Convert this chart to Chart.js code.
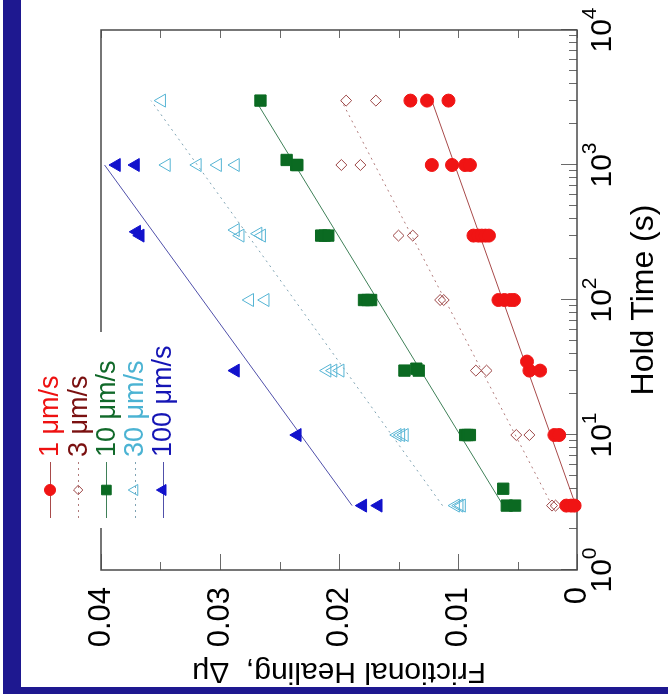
<!DOCTYPE html>
<html lang="en">
<head>
<meta charset="UTF-8" />
<title>Frictional Healing vs Hold Time</title>
<script src="https://cdn.jsdelivr.net/npm/chart.js"></script>
<style>
  html, body {
    margin: 0;
    padding: 0;
    background: #fff;
  }
  body {
    width: 668px;
    height: 694px;
    position: relative;
    overflow: hidden;
  }
  .band-left {
    position: absolute;
    left: 3px;
    top: 0;
    width: 18px;
    height: 694px;
    background: #1e1890;
  }
  .band-bottom {
    position: absolute;
    left: 3px;
    top: 687px;
    width: 665px;
    height: 7px;
    background: #1e1890;
  }
  /* the plot is laid out landscape, then turned a quarter turn to the left */
  .figure {
    position: absolute;
    left: 0;
    top: 0;
    width: 694px;
    height: 668px;
    transform-origin: 0 0;
    transform: translateY(694px) rotate(-90deg);
  }
</style>
</head>
<body>
<div class="band-left"></div>
<div class="band-bottom"></div>
<div class="figure"><canvas id="healing" width="694" height="668"></canvas></div>

<script>
const FONT = "'Liberation Sans', Arial, Helvetica, sans-serif";

const speedLabels = ['1 \u03bcm/s', '3 \u03bcm/s', '10 \u03bcm/s', '30 \u03bcm/s', '100 \u03bcm/s'];

// hold time (s) and healing for each load point velocity
const hold1 = [3, 3, 3, 10, 10, 30, 30, 35, 100, 100, 100, 100, 300, 300, 300, 300, 300, 1000, 1000, 1000, 1000, 3000, 3000, 3000];
const heal1 = [0.0009, 0.0005, 0.0002, 0.0019, 0.0015, 0.0040, 0.0031, 0.0042, 0.0066, 0.0061, 0.0056, 0.0053, 0.0087, 0.0083, 0.0080, 0.0077, 0.0074, 0.0122, 0.0105, 0.0094, 0.0090, 0.0140, 0.0126, 0.0108];

const hold3 = [3, 3, 10, 10, 30, 30, 100, 100, 300, 300, 1000, 1000, 3000, 3000];
const heal3 = [0.0021, 0.0018, 0.0051, 0.0040, 0.0085, 0.0076, 0.0115, 0.0112, 0.0150, 0.0138, 0.0198, 0.0182, 0.0194, 0.0169];

const hold10 = [4, 3, 3, 10, 10, 10, 30, 31, 30, 100, 100, 100, 300, 300, 300, 1090, 1000, 1000, 3000];
const heal10 = [0.0062, 0.0059, 0.0052, 0.0094, 0.0092, 0.0090, 0.0145, 0.0135, 0.0133, 0.0179, 0.0176, 0.0173, 0.0215, 0.0212, 0.0209, 0.0244, 0.0236, 0.0235, 0.0266];

const hold30 = [3, 3, 3, 10, 10, 10, 30, 30, 30, 100, 100, 330, 300, 310, 300, 1000, 1000, 1000, 1000, 3000];
const heal30 = [0.0102, 0.0099, 0.0097, 0.0151, 0.0148, 0.0145, 0.0210, 0.0205, 0.0199, 0.0275, 0.0262, 0.0287, 0.0283, 0.0268, 0.0265, 0.0345, 0.0319, 0.0302, 0.0287, 0.0349];

const hold100 = [3, 3, 10, 30, 300, 320, 1000, 1000];
const heal100 = [0.0180, 0.0167, 0.0235, 0.0287, 0.0367, 0.0370, 0.0387, 0.0371];

// log-linear fits, start and end of each line
const fitHold = [[3, 3000], [3, 3000], [3, 3000], [3, 3000], [3, 1000]];
const fitHeal = [[0.0001, 0.0122], [0.0021, 0.0198], [0.0062, 0.0270], [0.0113, 0.0358], [0.0189, 0.0397]];

const holdDecades = [1, 10, 100, 1000, 10000];
const holdExponents = ['0', '1', '2', '3', '4'];
const healingTicks = [0, 0.01, 0.02, 0.03, 0.04];
const healingLabels = ['0', '0.01', '0.02', '0.03', '0.04'];

const holdSets = [hold1, hold3, hold10, hold30, hold100];
const healSets = [heal1, heal3, heal10, heal30, heal100];

const markerStyles = [
  { pointStyle: 'circle', pointRadius: 6.5, backgroundColor: '#f01414', borderColor: '#f01414', borderWidth: 1 },
  { pointStyle: 'rectRot', pointRadius: 5.5, backgroundColor: 'rgba(0,0,0,0)', borderColor: '#9c4545', borderWidth: 1 },
  { pointStyle: 'rect', pointRadius: 8, backgroundColor: '#0b6a22', borderColor: '#0b6a22', borderWidth: 1 },
  { pointStyle: 'triangle', pointRadius: 7.5, backgroundColor: 'rgba(0,0,0,0)', borderColor: '#55b4d4', borderWidth: 1 },
  { pointStyle: 'triangle', pointRadius: 7.5, backgroundColor: '#1212cc', borderColor: '#1212cc', borderWidth: 1 }
];
const fitStyles = [
  { borderColor: '#a84a4a', borderDash: [] },
  { borderColor: '#b07a7a', borderDash: [2, 4] },
  { borderColor: '#3f8058', borderDash: [] },
  { borderColor: '#7fa3b3', borderDash: [2, 4] },
  { borderColor: '#5050aa', borderDash: [] }
];
const labelColors = ['#ee1111', '#7a1010', '#11692a', '#4bb3d3', '#1515b5'];

const datasets = [];
speedLabels.forEach((label, i) => {
  datasets.push({
    label: label,
    data: holdSets[i].map((t, k) => ({ x: t, y: healSets[i][k] })),
    ...markerStyles[i],
    pointHoverRadius: markerStyles[i].pointRadius,
    showLine: false,
    clip: false,
    order: 0
  });
});
speedLabels.forEach((label, i) => {
  datasets.push({
    label: label + ' fit',
    data: fitHold[i].map((t, k) => ({ x: t, y: fitHeal[i][k] })),
    showLine: true,
    pointRadius: 0,
    borderWidth: 1,
    fill: false,
    order: 1,
    ...fitStyles[i]
  });
});

// 1..9 in every decade, decades flagged as major
function holdTickList() {
  const list = [];
  for (let i = 0; i < holdDecades.length - 1; i++) {
    for (let m = 1; m <= 9; m++) {
      list.push({ value: holdDecades[i] * m, major: m === 1 });
    }
  }
  list.push({ value: holdDecades[holdDecades.length - 1], major: true });
  return list;
}

// labelled ticks plus a minor tick half way between them
function healingTickList() {
  const list = [];
  healingTicks.forEach((v, i) => {
    list.push({ value: v, major: true });
    if (i < healingTicks.length - 1) {
      list.push({ value: (v + healingTicks[i + 1]) / 2, major: false });
    }
  });
  return list;
}

// box round the plot with inward ticks, and the 10^n labels
const frameTicks = {
  id: 'frameTicks',
  beforeDatasetsDraw(chart) {
    const { ctx, chartArea: a, scales: { x, y } } = chart;
    ctx.save();
    ctx.strokeStyle = '#6a6a6a';
    ctx.lineWidth = 1;
    ctx.beginPath();
    x.ticks.forEach(t => {
      const px = Math.round(x.getPixelForValue(t.value)) + 0.5;
      ctx.moveTo(px, a.bottom);
      ctx.lineTo(px, a.bottom - (t.major ? 16 : 8));
    });
    y.ticks.forEach(t => {
      const py = Math.round(y.getPixelForValue(t.value)) + 0.5;
      ctx.moveTo(a.left, py);
      ctx.lineTo(a.left + (t.major ? 16 : 8), py);
      ctx.moveTo(a.right, py);
      ctx.lineTo(a.right - 8, py);
    });
    ctx.stroke();

    ctx.strokeStyle = '#4a4a4a';
    ctx.lineWidth = 1.5;
    ctx.strokeRect(a.left, a.top, a.right - a.left, a.bottom - a.top);

    ctx.fillStyle = '#000';
    ctx.textBaseline = 'alphabetic';
    ctx.textAlign = 'left';
    holdDecades.forEach((d, i) => {
      const px = x.getPixelForValue(d);
      ctx.font = '30px ' + FONT;
      const wBase = ctx.measureText('10').width;
      ctx.font = '21px ' + FONT;
      const wExp = ctx.measureText(holdExponents[i]).width;
      const left = px - (wBase + wExp) / 2;
      ctx.font = '30px ' + FONT;
      ctx.fillText('10', left, a.bottom + 34);
      ctx.font = '21px ' + FONT;
      ctx.fillText(holdExponents[i], left + wBase, a.bottom + 19);
    });
    ctx.restore();
  }
};

// key in the upper left, sitting on a white patch over the frame
const speedLegend = {
  id: 'speedLegend',
  afterDraw(chart) {
    const { ctx } = chart;
    const n = speedLabels.length;
    ctx.save();
    ctx.fillStyle = '#fff';
    ctx.fillRect(166, 34, 196, 146);
    speedLabels.forEach((label, i) => {
      const pts = chart.data.datasets[i];
      const fit = chart.data.datasets[i + n];
      const cy = 50 + i * 28.2;
      ctx.beginPath();
      ctx.setLineDash(fit.borderDash);
      ctx.strokeStyle = fit.borderColor;
      ctx.lineWidth = 1;
      ctx.moveTo(176, Math.round(cy) + 0.5);
      ctx.lineTo(232, Math.round(cy) + 0.5);
      ctx.stroke();
      ctx.setLineDash([]);

      ctx.fillStyle = pts.backgroundColor;
      ctx.strokeStyle = pts.borderColor;
      ctx.lineWidth = pts.borderWidth;
      Chart.helpers.drawPoint(ctx, {
        pointStyle: pts.pointStyle,
        radius: pts.pointRadius * 0.85,
        borderWidth: pts.borderWidth,
        rotation: 0
      }, 204, cy);

      ctx.fillStyle = labelColors[i];
      ctx.font = '27px ' + FONT;
      ctx.textAlign = 'left';
      ctx.textBaseline = 'middle';
      ctx.fillText(label, 237, cy + 1);
    });
    ctx.restore();
  }
};

new Chart(document.getElementById('healing'), {
  type: 'scatter',
  data: { datasets: datasets },
  options: {
    responsive: false,
    animation: false,
    devicePixelRatio: 1,
    layout: { padding: { top: 101, right: 30, left: 0, bottom: 0 } },
    plugins: {
      legend: { display: false },
      tooltip: { enabled: false }
    },
    scales: {
      x: {
        type: 'logarithmic',
        position: 'bottom',
        min: 1,
        max: 10000,
        grid: { display: false },
        border: { display: false },
        ticks: { display: false },
        afterBuildTicks: s => { s.ticks = holdTickList(); },
        afterFit: s => { s.height = 91; },
        title: {
          display: true,
          text: 'Hold Time (s)',
          color: '#000',
          font: { family: FONT, size: 32 },
          padding: { top: 0, bottom: 5 }
        }
      },
      y: {
        type: 'linear',
        min: 0,
        max: 0.04,
        grid: { display: false },
        border: { display: false },
        afterBuildTicks: s => { s.ticks = healingTickList(); },
        afterFit: s => { s.width = 124; },
        ticks: {
          autoSkip: false,
          padding: 9,
          color: '#000',
          font: { family: FONT, size: 31 },
          callback: v => {
            const k = healingTicks.findIndex(h => Math.abs(h - v) < 1e-9);
            return k < 0 ? '' : healingLabels[k];
          }
        },
        title: {
          display: true,
          text: 'Frictional Healing,  \u0394\u03bc',
          color: '#000',
          font: { family: FONT, size: 30 },
          padding: { top: 5, bottom: 0 }
        }
      }
    }
  },
  plugins: [frameTicks, speedLegend]
});
</script>
</body>
</html>
